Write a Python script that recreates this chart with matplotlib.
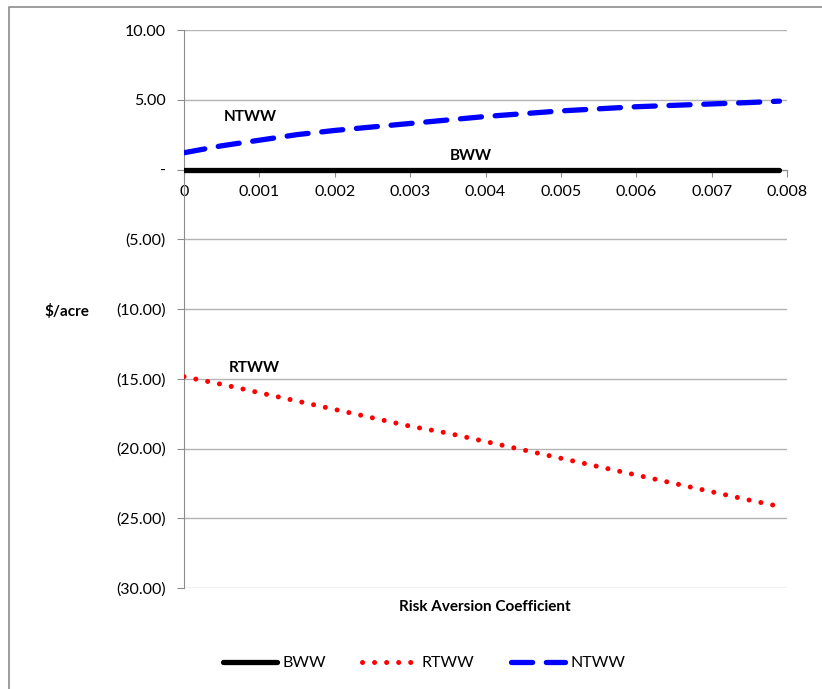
import matplotlib
matplotlib.use("Agg")
import matplotlib.pyplot as plt
from matplotlib.lines import Line2D
from matplotlib.ticker import FuncFormatter

plt.rcParams['font.family'] = ['Lato', 'DejaVu Sans']

x = [0, 0.0005, 0.001, 0.0015, 0.002, 0.0025, 0.003, 0.0035, 0.004, 0.0045,
     0.005, 0.0055, 0.006, 0.0065, 0.007, 0.0075, 0.0079]
bww = [0.0] * len(x)
rtww = [-14.85, -15.4, -16.0, -16.6, -17.2, -17.8, -18.4, -18.9, -19.5, -20.1,
        -20.7, -21.3, -21.9, -22.5, -23.1, -23.7, -24.15]
ntww = [1.2, 1.7, 2.1, 2.5, 2.8, 3.05, 3.3, 3.55, 3.8, 4.0,
        4.2, 4.35, 4.5, 4.6, 4.7, 4.8, 4.9]
yticks = [10, 5, 0, -5, -10, -15, -20, -25, -30]
xticks = [0, 0.001, 0.002, 0.003, 0.004, 0.005, 0.006, 0.007, 0.008]

fig = plt.figure(figsize=(8.22, 6.89), dpi=100)
ax = fig.add_axes([184/822, 1-588/689, (787-184)/822, (588-30)/689])

ax.plot(x, bww, color='black', lw=3.8, solid_capstyle='round', label='BWW', zorder=3)
ax.plot(x, rtww, color='red', lw=3.6, linestyle=(0, (0.01, 2.4)), dash_capstyle='round', label='RTWW', zorder=3)
ax.plot(x, ntww, color='#0000ff', lw=3.8, linestyle=(0, (4.0, 2.6)), dash_capstyle='round', label='NTWW', zorder=3)

ax.set_xlim(0, 0.008)
ax.set_ylim(-30, 10)
ax.set_yticks(yticks)
ax.set_xticks(xticks)

def yfmt(v, pos):
    if abs(v) < 1e-9:
        return '-'
    if v < 0:
        return '({:.2f})'.format(-v)
    return '{:.2f}'.format(v)

def xfmt(v, pos):
    if abs(v) < 1e-12:
        return '0'
    return '{:.3f}'.format(v)

ax.yaxis.set_major_formatter(FuncFormatter(yfmt))
ax.xaxis.set_major_formatter(FuncFormatter(xfmt))
ax.grid(axis='y', color='#b3b3b3', lw=1.0)
ax.set_axisbelow(True)
for s in ['top', 'right']:
    ax.spines[s].set_visible(False)
ax.spines['left'].set_color('#8c8c8c')
ax.spines['bottom'].set_position(('data', 0))
ax.spines['bottom'].set_color('#8c8c8c')
ax.tick_params(axis='y', length=5, color='#8c8c8c', labelsize=11.5, pad=8)
ax.tick_params(axis='x', length=5, color='#8c8c8c', labelsize=11.5, pad=6, direction='out')

ax.text(0.00088, 3.75, 'NTWW', fontsize=11, fontweight='bold', ha='center', va='center')
ax.text(0.0038, 1.0, 'BWW', fontsize=11, fontweight='bold', ha='center', va='center')
ax.text(0.00093, -14.2, 'RTWW', fontsize=11, fontweight='bold', ha='center', va='center')

fig.text(67/822, 1-312/689, '$/acre', fontsize=11, fontweight='bold', ha='center', va='center')
fig.text(485/822, 1-607/689, 'Risk Aversion Coefficient', fontsize=11, fontweight='bold', ha='center', va='center')

leg = fig.legend(loc='center', bbox_to_anchor=(424/822, 1-663/689), ncol=3, frameon=False,
                 fontsize=11.5, handlelength=3.4, handletextpad=0.3, columnspacing=2.3)

fig.add_artist(Line2D([9/822, 9/822, 1.0], [0.0, 1-7/689, 1-7/689], transform=fig.transFigure,
                      color='#8c8c8c', lw=1.2))

fig.savefig('out.png', dpi=100)
